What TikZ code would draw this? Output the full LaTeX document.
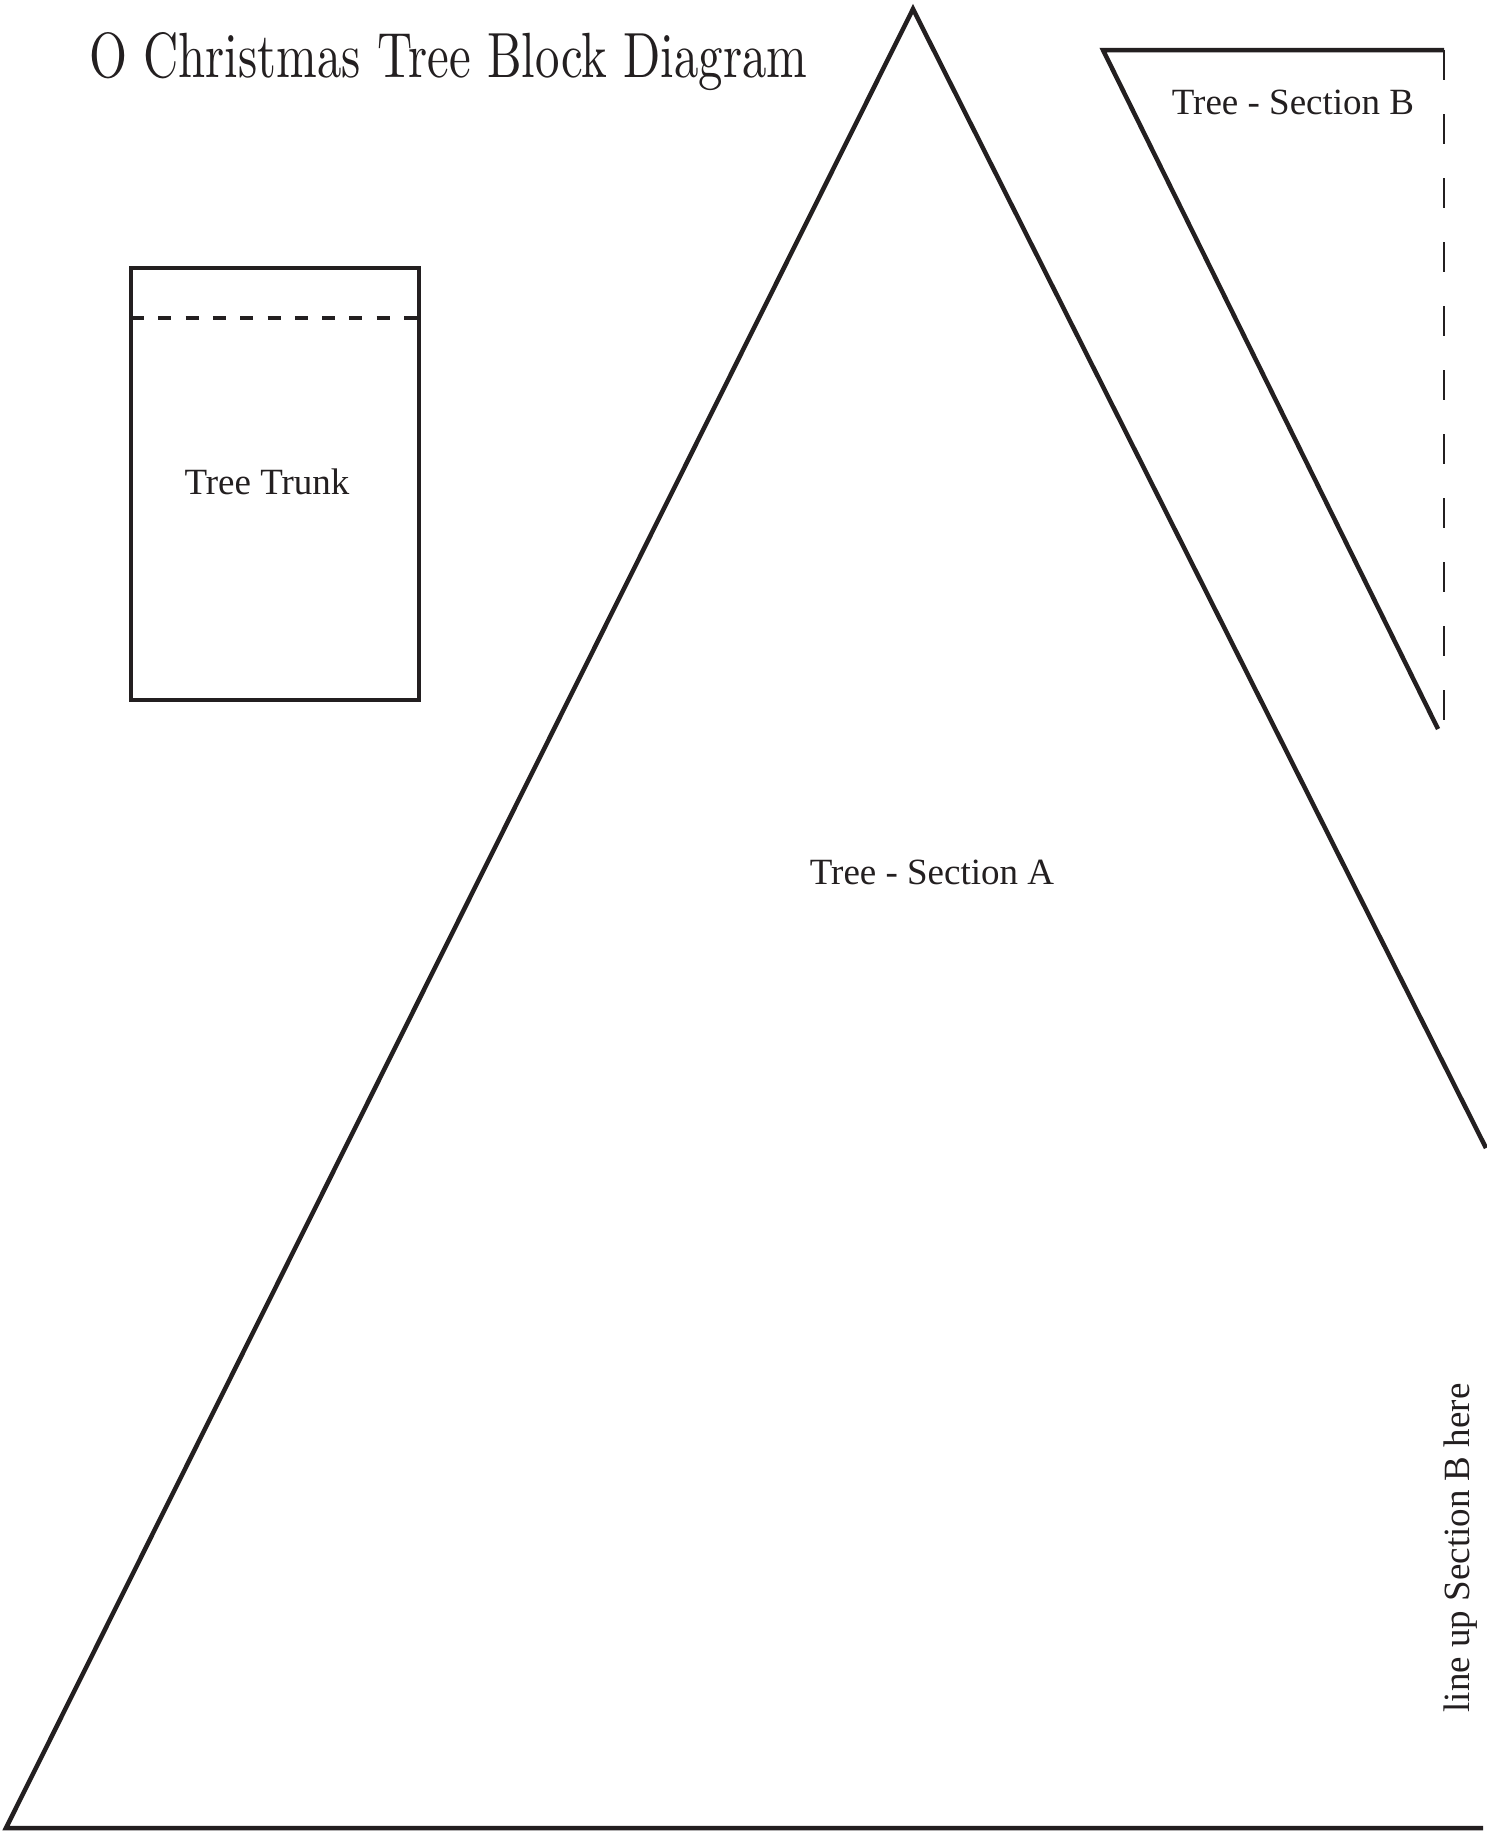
\documentclass[tikz,border=0pt]{standalone}
\usepackage{fontspec}
\newfontfamily\labelfont{Liberation Serif}
\definecolor{ink}{HTML}{231F20}
\tikzset{
  cutline/.style={draw=ink, line width=4.5pt, line join=miter},
  trunkline/.style={draw=ink, line width=4.8pt, line join=miter},
  foldline/.style={draw=ink, line width=4.6pt, dash pattern=on 13pt off 14.3pt},
  alignline/.style={draw=ink, line width=1.4pt, dash pattern=on 30pt off 34pt},
  lbl/.style={font=\labelfont\fontsize{37pt}{40pt}\selectfont, text=ink, inner sep=0pt, anchor=base},
}
\begin{document}
\begin{tikzpicture}[x=1pt, y=-1pt]
\useasboundingbox[fill=white] (0,0) rectangle (1486,1831);
% Section A
\coordinate (Aright) at (1486,1148);
\coordinate (Aapex) at (913,9);
\coordinate (Aleft) at (6,1828);
\coordinate (Abot) at (1483,1828);
\draw[cutline] (Aright) -- (Aapex) -- (Aleft) -- (Abot);
% Section B
\coordinate (Btr) at (1444,50);
\coordinate (Btl) at (1103,50);
\coordinate (Bbot) at (1438,729);
\coordinate (Bdash) at (1444,731);
\draw[cutline] (Btr) -- (Btl) -- (Bbot);
\draw[alignline] (Btr) -- (Bdash);
% Trunk
\coordinate (Ttl) at (131,268);
\coordinate (Tbr) at (419,700);
\draw[trunkline] (Ttl) rectangle (Tbr);
\coordinate (Tfl) at (131,318);
\coordinate (Tfr) at (419,318);
\draw[foldline] (Tfl) -- (Tfr);
% Labels
\node[anchor=base west, inner sep=0pt, text=ink] (title) at (89,77)
  {\resizebox{718pt}{45pt}{O Christmas Tree Block Diagram}};
\node[lbl] (labB) at (1293,114) {Tree - Section B};
\node[lbl] (labA) at (932,884) {Tree - Section A};
\node[lbl] (labT) at (267,494) {Tree Trunk};
\node[lbl, rotate=90] (labLine) at (1469,1548) {line up Section B here};
\end{tikzpicture}
\end{document}
